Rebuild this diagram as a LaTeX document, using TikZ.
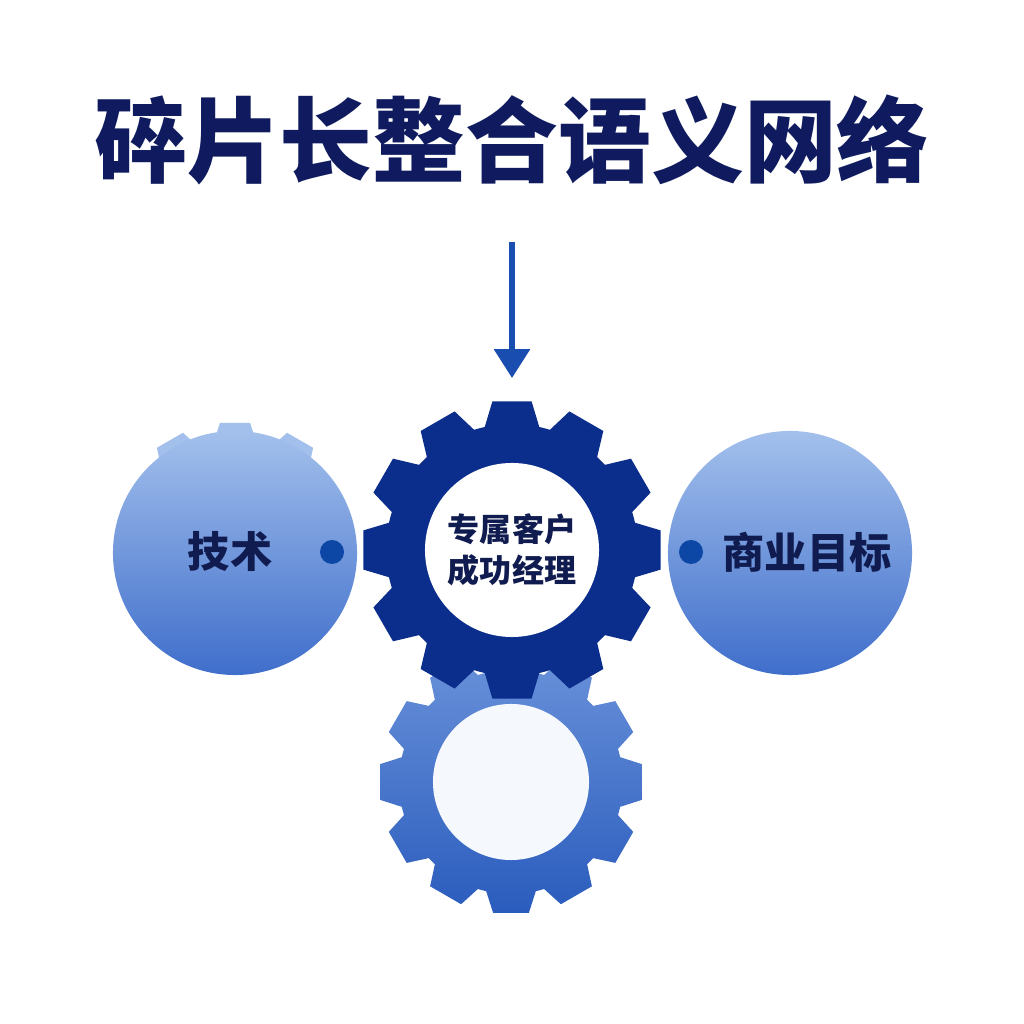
\documentclass[tikz,border=0pt]{standalone}
\usepackage{fontspec}
\newfontfamily\cjk{Noto Sans CJK SC}
\usetikzlibrary{arrows.meta}

\definecolor{gearnavy}{HTML}{0B2E8C}
\definecolor{titleink}{HTML}{0F1B5E}
\definecolor{labelink}{HTML}{101C50}
\definecolor{flowblue}{HTML}{1A4DB0}
\definecolor{dotblue}{HTML}{0D47A6}
\definecolor{bubbletop}{HTML}{A3C0EC}
\definecolor{bubblebot}{HTML}{3F6ECB}
\definecolor{geartop}{HTML}{6A92DA}
\definecolor{gearbot}{HTML}{2A5CBD}
\definecolor{hubwhite}{HTML}{F5F8FD}

\begin{document}
\begin{tikzpicture}[x=0.025cm,y=0.025cm,font=\cjk\bfseries,
      bubble/.style={circle,inner sep=0pt,minimum size=6.1cm,top color=bubbletop,bottom color=bubblebot},
      bubbletext/.style={text=labelink,font=\cjk\bfseries\fontsize{30}{34}\selectfont},
      dot/.style={circle,inner sep=0pt,minimum size=0.6cm,fill=dotblue},
      hub/.style={circle,inner sep=0pt,align=center,text=labelink},
      flow/.style={-{Triangle[width=0.88cm,length=0.72cm]},line width=3.6pt,draw=flowblue}]
      \useasboundingbox[fill=white] (0,0) rectangle (1024,1024);

      % title
      \node[text=titleink,font=\cjk\bfseries\fontsize{66}{70}\selectfont] (title) at (512,884) {碎片长整合语义网络};

      % lower gear
      \begin{scope}[shift={(511,242)}]
        \path[top color=geartop,bottom color=gearbot] (-12.8:112)
          \foreach \a in {0,30,...,330} { -- (\a-7.8:132) -- (\a+7.8:132) -- (\a+12.8:112)
            arc[start angle=\a+12.8,end angle=\a+17.2,radius=112] } -- cycle;
      \end{scope}
      \node[hub,fill=hubwhite,minimum size=3.9cm] (spare) at (511,242) {};

      % main gear
      \begin{scope}[shift={(512,474)}]
        \fill[gearnavy] (-12.5:126)
          \foreach \a in {0,30,...,330} { -- (\a-7.5:150) -- (\a+7.5:150) -- (\a+12.5:126)
            arc[start angle=\a+12.5,end angle=\a+17.5,radius=126] } -- cycle;
      \end{scope}
      \node[hub,fill=white,minimum size=4.35cm,font=\cjk\bfseries\fontsize{22.8}{29}\selectfont] (mgr) at (512,474) {专属客户\\成功经理};

      % side discs
      \begin{scope}[shift={(235,471)}]
        \foreach \a in {60,90,120}
          \fill[bubbletop] (\a-9.5:118) -- (\a-6.6:131) -- (\a+6.6:131) -- (\a+9.5:118) -- cycle;
      \end{scope}
      \node[bubble] (techdisc) at (235,471) {};
      \node[bubble] (bizdisc) at (790,471) {};
      \node[bubbletext] (tech) at (230,473) {技术};
      \node[bubbletext] (biz) at (807,472) {商业目标};
      \node[dot] (techdot) at (332,472) {};
      \node[dot] (bizdot) at (691,472) {};

      % input arrow
      \coordinate (intake) at (512,782);
      \coordinate (drop) at (512,646);
      \draw[flow] (intake) -- (drop);
\end{tikzpicture}
\end{document}
